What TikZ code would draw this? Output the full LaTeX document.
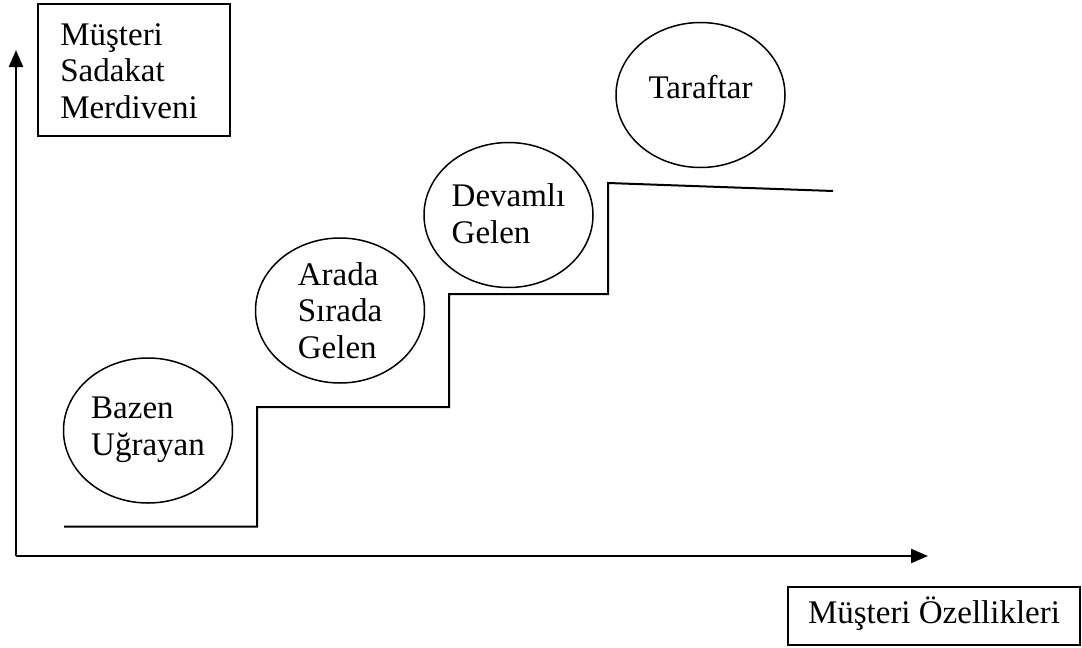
\documentclass[tikz,border=0pt]{standalone}
\usepackage{fontspec}
\setmainfont{Liberation Serif}
\usetikzlibrary{shapes.geometric,arrows.meta}
\begin{document}
\begin{tikzpicture}[x=1pt,y=-1pt,
  every node/.style={font=\fontsize{33}{36.5}\selectfont},
  axisline/.style={line width=2.2pt,-{Triangle[length=17pt,width=14pt]}},
  stairline/.style={line width=2pt},
  stage/.style={draw,ellipse,line width=1.5pt,minimum width=169pt,minimum height=145pt,inner sep=0pt,align=left},
  labelbox/.style={draw,rectangle,line width=1.6pt,inner sep=0pt,align=left}
]
\useasboundingbox (0,0) rectangle (1082,648);
% axes
\coordinate (origin) at (16,556);
\coordinate (ytip) at (16,50);
\coordinate (xtip) at (928,556);
\draw[axisline] (origin) -- (ytip);
\draw[axisline] (origin) -- (xtip);
% boxes
\node[labelbox,minimum width=192.5pt,minimum height=131.5pt,text width=147.5pt,inner xsep=22.5pt,text height=22pt,text depth=72pt] (ytitle) at (134,70) {Müşteri\\Sadakat\\Merdiveni};
\node[labelbox,minimum width=292pt,minimum height=58pt,text height=22pt,text depth=8pt] (xtitle) at (934,616) {Müşteri Özellikleri};
% staircase
\draw[stairline] (64,526.5) -- (257,526.5) -- (257,407) -- (449,407) -- (449,294) -- (608,294) -- (608,183) -- (833,191);
% stages
\node[stage,text height=58.5pt,text depth=9.5pt] (bazen) at (148,430.5) {Bazen\\Uğrayan};
\node[stage,text height=95pt,text depth=0pt] (arada) at (340,310.5) {Arada\\Sırada\\Gelen};
\node[stage,text height=58.5pt,text depth=2.5pt] (devamli) at (508.5,215) {Devamlı\\Gelen};
\node[stage,text height=22pt,text depth=16pt] (taraftar) at (700.5,95) {Taraftar};
\end{tikzpicture}
\end{document}
